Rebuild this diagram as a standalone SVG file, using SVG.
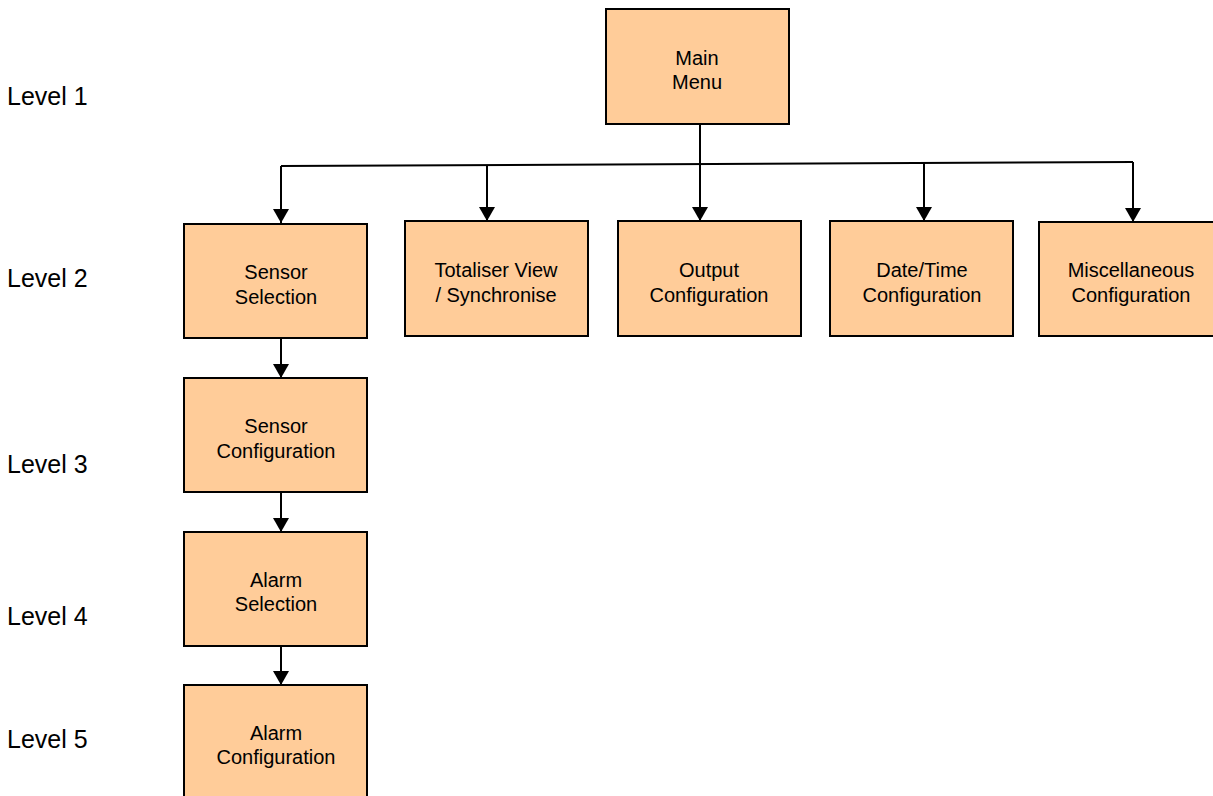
<svg xmlns="http://www.w3.org/2000/svg" width="1213" height="796" viewBox="0 0 1213 796">
<defs>
<marker id="ah" markerWidth="14" markerHeight="16" refX="14" refY="8" orient="auto" markerUnits="userSpaceOnUse" viewBox="0 0 14 16">
<path d="M0,0 L14,8 L0,16 Z" fill="#000"/>
</marker>
<style>
.box{fill:#FFCC99;stroke:#000;stroke-width:2}
.t{font-family:"Liberation Sans",Arial,sans-serif;font-size:20px;fill:#000;text-anchor:middle}
.lv{font-family:"Liberation Sans",Arial,sans-serif;font-size:25px;fill:#000}
.c{fill:none;stroke:#000;stroke-width:2}
</style>
</defs>
<rect width="1213" height="796" fill="#fff"/>
<g id="levels">
<text class="lv" x="7" y="105">Level 1</text>
<text class="lv" x="7" y="287">Level 2</text>
<text class="lv" x="7" y="473">Level 3</text>
<text class="lv" x="7" y="625">Level 4</text>
<text class="lv" x="7" y="748">Level 5</text>
</g>
<g id="connectors">
<path class="c" d="M281,166 L1133,162"/>
<path class="c" d="M281,166 V223" marker-end="url(#ah)"/>
<path class="c" d="M487,165 V221" marker-end="url(#ah)"/>
<path class="c" d="M700,124 V221" marker-end="url(#ah)"/>
<path class="c" d="M924,163 V221" marker-end="url(#ah)"/>
<path class="c" d="M1133,162 V222" marker-end="url(#ah)"/>
<path class="c" d="M281,338 V378" marker-end="url(#ah)"/>
<path class="c" d="M281,492 V532" marker-end="url(#ah)"/>
<path class="c" d="M281,646 V685" marker-end="url(#ah)"/>
</g>
<g id="main-menu">
<rect class="box" x="606" y="9" width="183" height="115"/>
<text class="t" x="697" y="65">Main</text>
<text class="t" x="697" y="89">Menu</text>
</g>
<g id="sensor-selection">
<rect class="box" x="184" y="224" width="183" height="114"/>
<text class="t" x="276" y="279">Sensor</text>
<text class="t" x="276" y="304">Selection</text>
</g>
<g id="totaliser">
<rect class="box" x="405" y="221" width="183" height="115"/>
<text class="t" x="496" y="277">Totaliser View</text>
<text class="t" x="496" y="302">/ Synchronise</text>
</g>
<g id="output-config">
<rect class="box" x="618" y="221" width="183" height="115"/>
<text class="t" x="709" y="277">Output</text>
<text class="t" x="709" y="302">Configuration</text>
</g>
<g id="datetime-config">
<rect class="box" x="830" y="221" width="183" height="115"/>
<text class="t" x="922" y="277">Date/Time</text>
<text class="t" x="922" y="302">Configuration</text>
</g>
<g id="misc-config">
<rect class="box" x="1039" y="222" width="183" height="114"/>
<text class="t" x="1131" y="277">Miscellaneous</text>
<text class="t" x="1131" y="302">Configuration</text>
</g>
<g id="sensor-config">
<rect class="box" x="184" y="378" width="183" height="114"/>
<text class="t" x="276" y="433">Sensor</text>
<text class="t" x="276" y="458">Configuration</text>
</g>
<g id="alarm-selection">
<rect class="box" x="184" y="532" width="183" height="114"/>
<text class="t" x="276" y="587">Alarm</text>
<text class="t" x="276" y="611">Selection</text>
</g>
<g id="alarm-config">
<rect class="box" x="184" y="685" width="183" height="130"/>
<text class="t" x="276" y="740">Alarm</text>
<text class="t" x="276" y="764">Configuration</text>
</g>
</svg>
